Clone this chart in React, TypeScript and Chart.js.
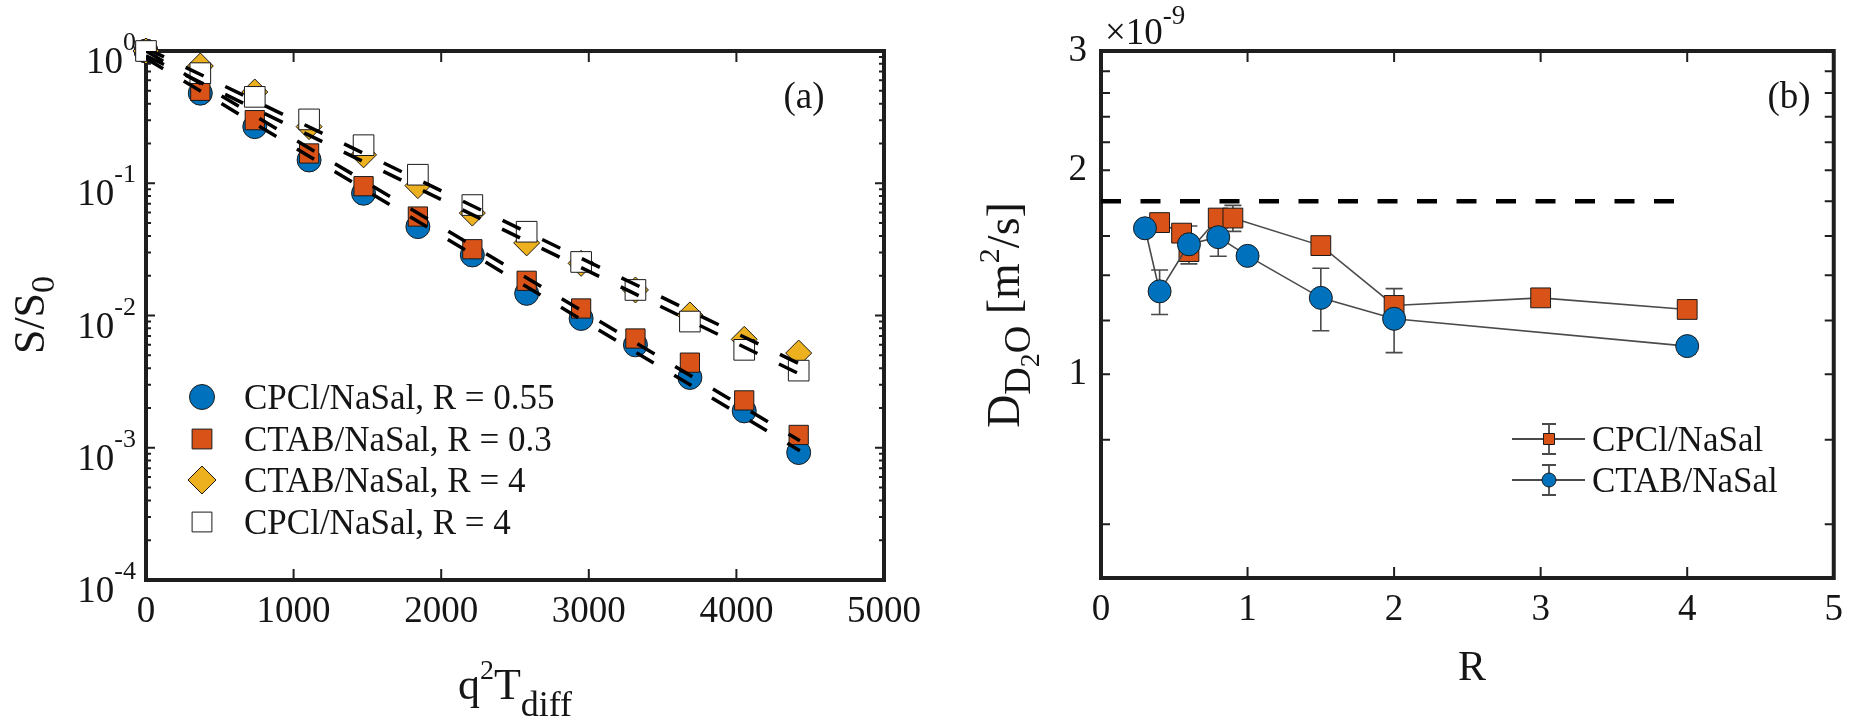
import React, { useEffect, useRef } from 'react';
import { Chart, registerables } from 'chart.js';

Chart.register(...registerables);

const W = 1853;
const H = 719;
const FONT = "'Liberation Serif', 'Times New Roman', serif";
const INK = '#151515';
const BLUE = '#0072BD';
const ORANGE = '#D95319';
const YELLOW = '#EDB120';

// ---------- panel (a) ----------
const qT = [0, 368, 737, 1105, 1474, 1842, 2211, 2579, 2948, 3316, 3685, 4053, 4422];
const sCpcl055 = [1.0, 0.48, 0.268, 0.15, 0.084, 0.047, 0.0287, 0.0147, 0.0095, 0.006, 0.0034, 0.0019, 0.00092];
const sCtab03 = [1.0, 0.5, 0.3, 0.168, 0.095, 0.056, 0.0317, 0.0183, 0.0113, 0.0067, 0.0044, 0.00228, 0.00125];
const sCtab4 = [1.0, 0.77, 0.49, 0.268, 0.164, 0.096, 0.0595, 0.0354, 0.0248, 0.0156, 0.0101, 0.0066, 0.0052];
const sCpcl4 = [1.0, 0.68, 0.45, 0.304, 0.194, 0.116, 0.0684, 0.043, 0.0254, 0.0156, 0.009, 0.0055, 0.00383];
const fitQ = [0, 4430];
const fitCpcl055 = [0.88, 0.00095];
const fitCtab03 = [1.0, 0.00113];
const fitCtab4 = [1.05, 0.0043];
const fitCpcl4 = [0.92, 0.0036];
const legendA = ['CPCl/NaSal, R = 0.55', 'CTAB/NaSal, R = 0.3', 'CTAB/NaSal, R = 4', 'CPCl/NaSal, R = 4'];
const qTicks = [0, 1000, 2000, 3000, 4000, 5000];
const sDecades = [-4, -3, -2, -1, 0];

// ---------- panel (b) ----------  (D in units of 1e-9 m^2/s)
const rCpcl = [0.4, 0.55, 0.6, 0.8, 0.9, 1.5, 2, 3, 4];
const dCpcl = [1.674, 1.615, 1.517, 1.7, 1.7, 1.548, 1.263, 1.296, 1.246];
const eCpcl = [0.02, 0.03, 0.04, 0.05, 0.075, 0.02, 0.074, 0.02, 0.02];
const rCtab = [0.3, 0.4, 0.6, 0.8, 1.0, 1.5, 2, 4];
const dCtab = [1.642, 1.325, 1.555, 1.593, 1.495, 1.296, 1.207, 1.1];
const eCtab = [0.02, 0.1, 0.1, 0.1, 0.03, 0.137, 0.131, 0.03];
const rRef = [0, 4];
const dRef = [1.8, 1.8];
const legendB = ['CPCl/NaSal', 'CTAB/NaSal'];
const rTicks = [0, 1, 2, 3, 4, 5];
const dTicks = [0.6, 0.8, 1, 1.2, 1.4, 1.6, 1.8, 2, 2.2, 2.4, 2.6, 2.8, 3];
const dLabelled = [1, 2, 3];

type Seg = { t: string; s: number; dy: number };

function drawSegs(ctx: CanvasRenderingContext2D, segs: Seg[], x: number, y: number, align: 'left' | 'right' | 'center') {
  let w = 0;
  for (const s of segs) {
    ctx.font = `${s.s}px ${FONT}`;
    w += ctx.measureText(s.t).width;
  }
  let cx = align === 'left' ? x : align === 'right' ? x - w : x - w / 2;
  ctx.textAlign = 'left';
  ctx.textBaseline = 'alphabetic';
  ctx.fillStyle = INK;
  for (const s of segs) {
    ctx.font = `${s.s}px ${FONT}`;
    ctx.fillText(s.t, cx, y + s.dy);
    cx += ctx.measureText(s.t).width;
  }
}

function drawMarker(ctx: CanvasRenderingContext2D, style: string, x: number, y: number, r: number, fill: string, stroke: string, lw: number) {
  ctx.beginPath();
  if (style === 'circle') ctx.arc(x, y, r, 0, Math.PI * 2);
  else if (style === 'rect') {
    const h = r * Math.SQRT1_2;
    ctx.rect(x - h, y - h, 2 * h, 2 * h);
  } else {
    ctx.moveTo(x - r, y);
    ctx.lineTo(x, y - r);
    ctx.lineTo(x + r, y);
    ctx.lineTo(x, y + r);
    ctx.closePath();
  }
  ctx.fillStyle = fill;
  ctx.fill();
  ctx.lineWidth = lw;
  ctx.strokeStyle = stroke;
  ctx.stroke();
}

function frame(chart: any, xInner: number[], yMajor: number[], yMinor: number[], xLen: number, yLen: number, yMinLen: number) {
  const ctx: CanvasRenderingContext2D = chart.ctx;
  const a = chart.chartArea;
  const xs = chart.scales.x;
  const ys = chart.scales.y;
  ctx.save();
  ctx.strokeStyle = '#1e1e1e';
  ctx.lineWidth = 2;
  ctx.beginPath();
  for (const v of xInner) {
    const px = xs.getPixelForValue(v);
    ctx.moveTo(px, a.bottom);
    ctx.lineTo(px, a.bottom - xLen);
    ctx.moveTo(px, a.top);
    ctx.lineTo(px, a.top + xLen);
  }
  const yt = (list: number[], len: number) => {
    for (const v of list) {
      const py = ys.getPixelForValue(v);
      ctx.moveTo(a.left, py);
      ctx.lineTo(a.left + len, py);
      ctx.moveTo(a.right, py);
      ctx.lineTo(a.right - len, py);
    }
  };
  yt(yMajor, yLen);
  yt(yMinor, yMinLen);
  ctx.stroke();
  ctx.lineWidth = 4;
  ctx.strokeRect(a.left, a.top, a.right - a.left, a.bottom - a.top);
  ctx.restore();
}

function pts(xs: number[], ys: number[]) {
  return xs.map((x, i) => ({ x, y: ys[i] }));
}

function buildA(): any {
  const minor: number[] = [];
  for (let n = -4; n < 0; n++) for (let k = 2; k <= 9; k++) minor.push(k * Math.pow(10, n));
  const yMajor = [1e-3, 1e-2, 1e-1];
  const markerDs = (label: string, data: number[], style: string, r: number, fill: string, order: number) => ({
    label,
    data: pts(qT, data),
    showLine: false,
    pointStyle: style,
    pointRadius: r,
    pointHoverRadius: r,
    pointBackgroundColor: fill,
    pointBorderColor: '#1a1a1a',
    pointBorderWidth: 1,
    clip: false,
    order,
  });
  const fitDs = (data: number[]) => ({
    data: pts(fitQ, data),
    showLine: true,
    pointRadius: 0,
    borderColor: '#000',
    borderWidth: 3.5,
    borderDash: [20, 24],
    fill: false,
    order: 0,
  });
  const plugin = {
    id: 'panelA',
    beforeDatasetsDraw(chart: any) {
      frame(chart, [1000, 2000, 3000, 4000], yMajor, minor, 11, 9, 5);
    },
    afterDraw(chart: any) {
      const ctx: CanvasRenderingContext2D = chart.ctx;
      const ys = chart.scales.y;
      ctx.save();
      for (const n of sDecades) {
        const py = ys.getPixelForValue(Math.pow(10, n));
        drawSegs(ctx, [{ t: '10', s: 37, dy: 0 }, { t: String(n), s: 26, dy: -23 }], 136, py + 22, 'right');
      }
      // axis titles
      drawSegs(ctx, [{ t: 'q', s: 44, dy: 0 }, { t: '2', s: 28, dy: -20 }, { t: 'T', s: 44, dy: 0 }, { t: 'diff', s: 36, dy: 17 }], 515, 699, 'center');
      ctx.save();
      ctx.translate(0, 315);
      ctx.rotate(-Math.PI / 2);
      drawSegs(ctx, [{ t: 'S/S', s: 44, dy: 0 }, { t: '0', s: 34, dy: 10 }], 0, 44, 'center');
      ctx.restore();
      drawSegs(ctx, [{ t: '(a)', s: 37, dy: 0 }], 804, 108, 'center');
      // legend
      const rows = [397, 439, 480, 522];
      const lg = [
        { st: 'circle', r: 12.5, f: BLUE },
        { st: 'rect', r: 14, f: ORANGE },
        { st: 'rectRot', r: 14, f: YELLOW },
        { st: 'rect', r: 14, f: '#ffffff' },
      ];
      lg.forEach((m, i) => {
        drawMarker(ctx, m.st, 202, rows[i], m.r, m.f, '#1a1a1a', 1);
        drawSegs(ctx, [{ t: legendA[i], s: 35, dy: 0 }], 244, rows[i] + 12, 'left');
      });
      ctx.restore();
    },
  };
  return {
    type: 'scatter',
    data: {
      datasets: [
        markerDs(legendA[0], sCpcl055, 'circle', 12, BLUE, 5),
        markerDs(legendA[1], sCtab03, 'rect', 13.6, ORANGE, 4),
        markerDs(legendA[2], sCtab4, 'rectRot', 13, YELLOW, 3),
        markerDs(legendA[3], sCpcl4, 'rect', 14.6, '#ffffff', 2),
        fitDs(fitCpcl055),
        fitDs(fitCtab03),
        fitDs(fitCtab4),
        fitDs(fitCpcl4),
      ],
    },
    options: {
      animation: false,
      responsive: false,
      devicePixelRatio: 1,
      events: [],
      layout: { padding: { top: 51, right: W - 884, left: 0, bottom: 0 } },
      plugins: { legend: { display: false }, tooltip: { enabled: false } },
      scales: {
        x: {
          type: 'linear',
          min: 0,
          max: 5000,
          afterBuildTicks: (s: any) => {
            s.ticks = qTicks.map((v) => ({ value: v }));
          },
          ticks: {
            font: { family: FONT, size: 37 },
            color: INK,
            padding: 10,
            maxRotation: 0,
            autoSkip: false,
            callback: (v: any) => String(v),
          },
          grid: { display: false, drawTicks: false },
          border: { display: false },
          afterFit: (s: any) => {
            s.height = H - 580;
          },
        },
        y: {
          type: 'logarithmic',
          min: 1e-4,
          max: 1,
          ticks: { display: false },
          grid: { display: false, drawTicks: false },
          border: { display: false },
          afterFit: (s: any) => {
            s.width = 146;
          },
        },
      },
    },
    plugins: [plugin],
  };
}

function buildB(): any {
  const errs: Record<number, number[]> = { 1: eCtab, 2: eCpcl };
  const plugin = {
    id: 'panelB',
    beforeDatasetsDraw(chart: any) {
      const minor = dTicks.filter((v) => !dLabelled.includes(v));
      frame(chart, [1, 2, 3, 4], dLabelled, minor, 11, 9, 9);
      const ctx: CanvasRenderingContext2D = chart.ctx;
      const xs = chart.scales.x;
      const ys = chart.scales.y;
      ctx.save();
      ctx.strokeStyle = '#4a4a4a';
      ctx.lineWidth = 1.6;
      ctx.beginPath();
      [2, 1].forEach((di) => {
        const ds = chart.data.datasets[di];
        const e = errs[di];
        ds.data.forEach((p: any, i: number) => {
          const px = xs.getPixelForValue(p.x);
          const top = ys.getPixelForValue(p.y + e[i]);
          const bot = ys.getPixelForValue(p.y - e[i]);
          ctx.moveTo(px, top);
          ctx.lineTo(px, bot);
          ctx.moveTo(px - 8.5, top);
          ctx.lineTo(px + 8.5, top);
          ctx.moveTo(px - 8.5, bot);
          ctx.lineTo(px + 8.5, bot);
        });
      });
      ctx.stroke();
      ctx.restore();
    },
    afterDraw(chart: any) {
      const ctx: CanvasRenderingContext2D = chart.ctx;
      ctx.save();
      drawSegs(ctx, [{ t: '×10', s: 37, dy: 0 }, { t: '-9', s: 27, dy: -20 }], 1105, 44, 'left');
      drawSegs(ctx, [{ t: 'R', s: 42, dy: 0 }], 1472, 680, 'center');
      ctx.save();
      ctx.translate(0, 315);
      ctx.rotate(-Math.PI / 2);
      drawSegs(
        ctx,
        [
          { t: 'D', s: 46, dy: 0 },
          { t: 'D', s: 38, dy: 11 },
          { t: '2', s: 28, dy: 20 },
          { t: 'O', s: 38, dy: 11 },
          { t: ' [m', s: 46, dy: 0 },
          { t: '2', s: 30, dy: -20 },
          { t: '/s]', s: 46, dy: 0 },
        ],
        0,
        1019,
        'center'
      );
      ctx.restore();
      drawSegs(ctx, [{ t: '(b)', s: 37, dy: 0 }], 1789, 108, 'center');
      // legend
      const rows = [439, 480];
      const lg = [
        { st: 'rect', r: 7.8, f: ORANGE },
        { st: 'circle', r: 7, f: BLUE },
      ];
      lg.forEach((m, i) => {
        const y = rows[i];
        ctx.strokeStyle = '#4a4a4a';
        ctx.lineWidth = 1.8;
        ctx.beginPath();
        ctx.moveTo(1512, y);
        ctx.lineTo(1585, y);
        ctx.moveTo(1549, y - 15);
        ctx.lineTo(1549, y + 15);
        ctx.moveTo(1542, y - 15);
        ctx.lineTo(1556, y - 15);
        ctx.moveTo(1542, y + 15);
        ctx.lineTo(1556, y + 15);
        ctx.stroke();
        drawMarker(ctx, m.st, 1549, y, m.r, m.f, '#1a1a1a', 1);
        drawSegs(ctx, [{ t: legendB[i], s: 35, dy: 0 }], 1592, y + 12, 'left');
      });
      ctx.restore();
    },
  };
  return {
    type: 'scatter',
    data: {
      datasets: [
        {
          data: pts(rRef, dRef),
          showLine: true,
          pointRadius: 0,
          borderColor: '#000',
          borderWidth: 4.3,
          borderDash: [20, 19.5],
          order: 0,
        },
        {
          label: legendB[1],
          data: pts(rCtab, dCtab),
          showLine: true,
          borderColor: '#4a4a4a',
          borderWidth: 1.6,
          pointStyle: 'circle',
          pointRadius: 11.5,
          pointBackgroundColor: BLUE,
          pointBorderColor: '#1a1a1a',
          pointBorderWidth: 1,
          clip: false,
          order: 1,
        },
        {
          label: legendB[0],
          data: pts(rCpcl, dCpcl),
          showLine: true,
          borderColor: '#4a4a4a',
          borderWidth: 1.6,
          pointStyle: 'rect',
          pointRadius: 14,
          pointBackgroundColor: ORANGE,
          pointBorderColor: '#1a1a1a',
          pointBorderWidth: 1,
          clip: false,
          order: 2,
        },
      ],
    },
    options: {
      animation: false,
      responsive: false,
      devicePixelRatio: 1,
      events: [],
      layout: { padding: { top: 51, right: W - 1842, left: 920, bottom: 0 } },
      plugins: { legend: { display: false }, tooltip: { enabled: false } },
      scales: {
        x: {
          type: 'linear',
          min: 0,
          max: 5,
          afterBuildTicks: (s: any) => {
            s.ticks = rTicks.map((v) => ({ value: v }));
          },
          ticks: {
            font: { family: FONT, size: 37 },
            color: INK,
            padding: 10,
            maxRotation: 0,
            autoSkip: false,
            callback: (v: any) => String(v),
          },
          grid: { display: false, drawTicks: false },
          border: { display: false },
          afterFit: (s: any) => {
            s.height = H - 578;
          },
        },
        y: {
          type: 'logarithmic',
          min: 0.5,
          max: 3,
          afterBuildTicks: (s: any) => {
            s.ticks = dTicks.map((v) => ({ value: v }));
          },
          ticks: {
            font: { family: FONT, size: 37 },
            color: INK,
            padding: 14,
            autoSkip: false,
            callback: (v: any) => (dLabelled.includes(Number(v)) ? String(v) : ''),
          },
          grid: { display: false, drawTicks: false },
          border: { display: false },
          afterFit: (s: any) => {
            s.width = 181;
          },
        },
      },
    },
    plugins: [plugin],
  };
}

export default function App() {
  const aRef = useRef<HTMLCanvasElement>(null);
  const bRef = useRef<HTMLCanvasElement>(null);
  useEffect(() => {
    const ca = new Chart(aRef.current as HTMLCanvasElement, buildA());
    const cb = new Chart(bRef.current as HTMLCanvasElement, buildB());
    return () => {
      ca.destroy();
      cb.destroy();
    };
  }, []);
  const cs: React.CSSProperties = { position: 'absolute', left: 0, top: 0, width: W, height: H };
  return (
    <div style={{ position: 'fixed', left: 0, top: 0, width: W, height: H, background: '#ffffff' }}>
      <canvas ref={aRef} width={W} height={H} style={cs} />
      <canvas ref={bRef} width={W} height={H} style={cs} />
    </div>
  );
}
